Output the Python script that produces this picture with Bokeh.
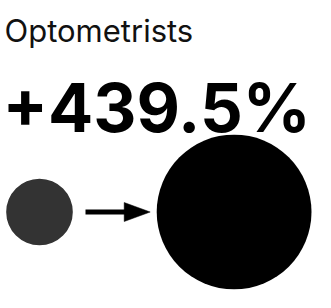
from bokeh.plotting import figure
from bokeh.models import Range1d, Label, ColumnDataSource
from bokeh.embed import file_html
from bokeh.resources import INLINE
import math

# ---- data ----
occupation = "Optometrists"
change_pct = 439.5
stages = ["before", "after"]
stage_values = [100.0, 539.5]
stage_colors = ["#333333", "#000000"]

W, H = 315, 292
p = figure(width=W, height=H, output_backend="svg", toolbar_location=None,
           x_range=Range1d(0, W), y_range=Range1d(H, 0), min_border=0,
           outline_line_color=None)
p.axis.visible = False
p.xgrid.visible = False
p.ygrid.visible = False
p.background_fill_color = "white"
p.border_fill_color = "white"

# title texts
p.add_layout(Label(x=4, y=29.5, text=occupation, text_font="Inter",
                   text_font_size="31px", text_color="#111111",
                   text_baseline="alphabetic"))
p.add_layout(Label(x=2, y=107, text=f"+{change_pct}%", text_font="Inter",
                   text_font_size="67px", text_font_style="bold",
                   text_color="#000000", text_baseline="alphabetic"))

# circles, area proportional to value
max_r = 77.4
k = max_r / math.sqrt(max(stage_values))
radii = [k * math.sqrt(v) for v in stage_values]
cy = 211.5
xs = [39.0, 233.6]
src = ColumnDataSource(dict(x=xs, y=[cy, cy], r=radii, c=stage_colors, s=stages))
p.circle(x="x", y="y", radius="r", fill_color="c", line_color=None, source=src)

# arrow between the circles
x0, x_neck, x_tip = 85.0, 123.7, 149.7
head_h = 19.0
p.segment(x0=[x0], y0=[cy], x1=[x_neck + 1], y1=[cy], line_width=4.8,
          line_color="black", line_cap="butt")
p.patch(x=[x_neck, x_tip, x_neck], y=[cy - head_h / 2, cy, cy + head_h / 2],
        fill_color="black", line_color="black", line_width=0.5)

open("out.html", "w").write(file_html(p, INLINE))
